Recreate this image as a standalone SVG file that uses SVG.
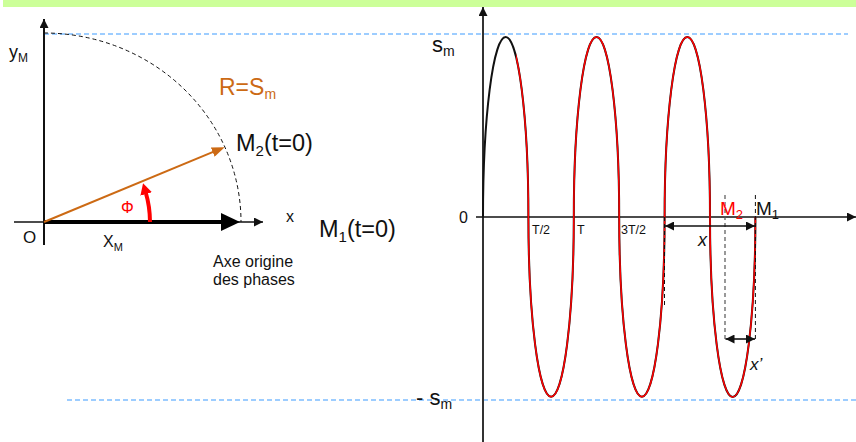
<svg xmlns="http://www.w3.org/2000/svg" width="856" height="442" viewBox="0 0 856 442">
<style>
text{font-family:"Liberation Sans",Arial,sans-serif;fill:#111}
.ax{stroke:#111;stroke-width:1.6;fill:none}
.blue{stroke:#3d9bff;stroke-width:1.2;stroke-dasharray:5 3;fill:none}
.dash{stroke:#111;stroke-width:1;stroke-dasharray:4 3;fill:none}
.dashg{stroke:#555;stroke-width:1.2;stroke-dasharray:4 3;fill:none}
.dim{stroke:#111;stroke-width:1.6;fill:none;marker-start:url(#dh);marker-end:url(#dh)}
.wave{fill:none;stroke:#111;stroke-width:2}
.wred{fill:none;stroke:#ff0000;stroke-width:1.5}
</style>
<defs>
<marker id="ah" viewBox="0 0 10 10" refX="10" refY="5" markerUnits="userSpaceOnUse" markerWidth="9" markerHeight="9" orient="auto"><path d="M0,0L10,5L0,10z" fill="#111"/></marker>
<marker id="dh" viewBox="0 0 10 10" refX="10" refY="5" markerUnits="userSpaceOnUse" markerWidth="10" markerHeight="9" orient="auto-start-reverse"><path d="M0,0L10,5L0,10z" fill="#111"/></marker>
<marker id="thick" viewBox="0 0 19 18" refX="5" refY="9" markerUnits="userSpaceOnUse" markerWidth="19" markerHeight="18" orient="auto"><path d="M0,0L19,9L0,18z" fill="#000"/></marker>
<marker id="oh" viewBox="0 0 13 10" refX="9" refY="5" markerUnits="userSpaceOnUse" markerWidth="13" markerHeight="10" orient="auto"><path d="M0,0L13,5L0,10z" fill="#cc6a14"/></marker>
<marker id="rh" viewBox="0 0 11 12" refX="2" refY="6" markerUnits="userSpaceOnUse" markerWidth="11" markerHeight="12" orient="auto"><path d="M0,0L11,6L0,12z" fill="#ff0000"/></marker>
<clipPath id="rc"><rect x="516" y="0" width="248" height="442"/></clipPath>
</defs>

<rect x="3" y="0" width="853" height="7" fill="#ccff99"/>

<g id="guides">
<line class="blue" x1="44" y1="34" x2="848" y2="34"/>
<line class="blue" x1="67" y1="400" x2="856" y2="400"/>
<path class="dash" d="M44,33 A197,189 0 0 1 241,222"/>
</g>

<g id="left-axes">
<line class="ax" x1="44" y1="245" x2="44" y2="19" style="stroke-width:2" marker-end="url(#ah)"/>
<line class="ax" x1="14" y1="222" x2="263" y2="222" marker-end="url(#ah)"/>
</g>

<g id="connectors">
<line x1="44" y1="222" x2="226" y2="222" stroke="#000" stroke-width="4" marker-end="url(#thick)"/>
<line x1="44" y1="222" x2="221" y2="148.7" stroke="#cc6a14" stroke-width="2" marker-end="url(#oh)"/>
<path d="M150,222 A106,106 0 0 0 145.6,192" fill="none" stroke="#ff0000" stroke-width="4" marker-end="url(#rh)"/>
</g>

<g id="left-labels">
<text x="9" y="58" font-size="18">y<tspan font-size="12" dy="4">M</tspan></text>
<text x="219" y="95" font-size="23" style="fill:#cc6a14">R=S<tspan font-size="14" dy="4">m</tspan></text>
<text x="236" y="151" font-size="23.5">M<tspan font-size="15" dy="5">2</tspan><tspan dy="-5">(t=0)</tspan></text>
<text x="319" y="237" font-size="23.5">M<tspan font-size="15" dy="5">1</tspan><tspan dy="-5">(t=0)</tspan></text>
<text x="121" y="213" font-size="16" style="fill:#ff0000">Φ</text>
<text x="23" y="243" font-size="17">O</text>
<text x="103" y="247" font-size="16">X<tspan font-size="11" dy="4">M</tspan></text>
<text x="286" y="222" font-size="16">x</text>
<text x="213" y="267" font-size="16">Axe origine</text>
<text x="213" y="285" font-size="16">des phases</text>
</g>

<g id="right-axes">
<line class="ax" x1="483" y1="442" x2="483" y2="7" style="stroke:#333;stroke-width:2" marker-end="url(#ah)"/>
<line class="ax" x1="476" y1="217" x2="856" y2="217" marker-end="url(#ah)"/>
</g>

<g id="waves">
<path class="wave" d="M483,217 A22.7,180 0 0 1 528.4,217 A22.7,180 0 0 0 573.8,217 A22.7,180 0 0 1 619.2,217 A22.7,180 0 0 0 664.6,217 A22.7,180 0 0 1 710,217 A22.7,180 0 0 0 755.4,217"/>
<path class="wred" clip-path="url(#rc)" d="M483,217 A22.7,180 0 0 1 528.4,217 A22.7,180 0 0 0 573.8,217 A22.7,180 0 0 1 619.2,217 A22.7,180 0 0 0 664.6,217 A22.7,180 0 0 1 710,217 A22.7,180 0 0 0 755.4,217"/>
</g>

<g id="markers-dims">
<line class="dash" x1="664.5" y1="217" x2="664.5" y2="307"/>
<line class="dashg" x1="725" y1="195" x2="725" y2="339"/>
<line class="dash" x1="755.4" y1="195" x2="755.4" y2="339"/>
<line class="dim" x1="665" y1="226" x2="755" y2="226"/>
<line class="dim" x1="725.5" y1="339" x2="755" y2="339"/>
</g>

<g id="right-labels">
<text x="432" y="52" font-size="22">s<tspan font-size="14" dy="4">m</tspan></text>
<text x="416" y="405" font-size="22">- s<tspan font-size="14" dy="4">m</tspan></text>
<text x="459" y="223" font-size="16">0</text>
<text x="532" y="234" font-size="12.5">T/2</text>
<text x="577" y="234" font-size="12.5">T</text>
<text x="621" y="234" font-size="12.5">3T/2</text>
<text x="720" y="215" font-size="19" style="fill:#ff0000">M<tspan font-size="13" dy="4">2</tspan></text>
<text x="756" y="215" font-size="19">M<tspan font-size="13" dy="4">1</tspan></text>
<text x="698" y="246" font-size="18" font-style="italic">x</text>
<text x="750" y="370" font-size="17" font-style="italic">x’</text>
</g>
</svg>
